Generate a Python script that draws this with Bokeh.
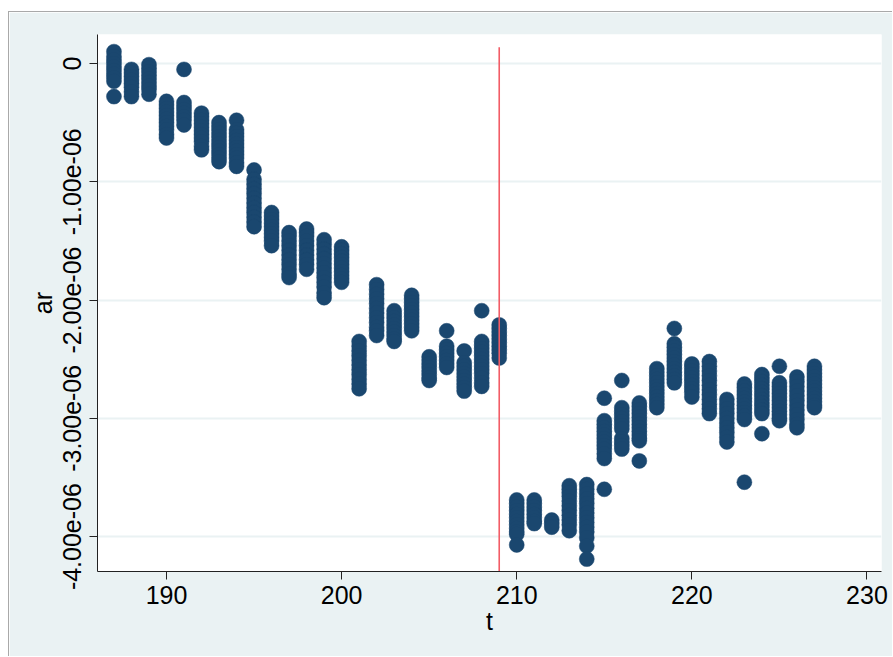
from bokeh.plotting import figure
from bokeh.models import Range1d, FixedTicker, CustomJSTickFormatter
from bokeh.embed import file_html
from bokeh.resources import INLINE

# ---- data (ar values in units of 1e-06) ----
AR_UNIT = 1e-06
t_values = [187, 188, 189, 190, 191, 192, 193, 194, 195, 196, 197, 198, 199, 200,
            201, 202, 203, 204, 205, 206, 207, 208, 209, 210, 211, 212, 213, 214,
            215, 216, 217, 218, 219, 220, 221, 222, 223, 224, 225, 226, 227]

ar_187 = [0.10, 0.06, 0.03, 0.00, -0.03, -0.06, -0.09, -0.12, -0.15, -0.28]
ar_188 = [-0.05, -0.08, -0.11, -0.14, -0.17, -0.20, -0.24, -0.28]
ar_189 = [-0.01, -0.04, -0.07, -0.10, -0.13, -0.16, -0.19, -0.22, -0.26]
ar_190 = [-0.32, -0.35, -0.38, -0.41, -0.44, -0.47, -0.50, -0.53, -0.56, -0.60, -0.63]
ar_191 = [-0.05, -0.33, -0.36, -0.39, -0.42, -0.45, -0.48, -0.52]
ar_192 = [-0.42, -0.45, -0.48, -0.51, -0.54, -0.57, -0.60, -0.63, -0.66, -0.70, -0.73]
ar_193 = [-0.50, -0.53, -0.56, -0.59, -0.62, -0.65, -0.68, -0.71, -0.74, -0.77, -0.80, -0.83]
ar_194 = [-0.48, -0.56, -0.59, -0.62, -0.65, -0.68, -0.71, -0.74, -0.77, -0.80, -0.84, -0.87]
ar_195 = [-0.90, -0.98, -1.02, -1.06, -1.10, -1.14, -1.18, -1.22, -1.26, -1.30, -1.34, -1.38]
ar_196 = [-1.26, -1.29, -1.32, -1.35, -1.38, -1.41, -1.44, -1.47, -1.50, -1.54]
ar_197 = [-1.43, -1.46, -1.50, -1.54, -1.58, -1.62, -1.66, -1.70, -1.74, -1.78, -1.81]
ar_198 = [-1.40, -1.43, -1.46, -1.50, -1.54, -1.58, -1.62, -1.66, -1.70, -1.74]
ar_199 = [-1.49, -1.53, -1.57, -1.61, -1.65, -1.69, -1.73, -1.77, -1.81, -1.85, -1.89, -1.94, -1.98]
ar_200 = [-1.55, -1.58, -1.61, -1.64, -1.67, -1.70, -1.73, -1.76, -1.79, -1.82, -1.85]
ar_201 = [-2.35, -2.39, -2.43, -2.47, -2.51, -2.55, -2.59, -2.63, -2.67, -2.71, -2.75]
ar_202 = [-1.87, -1.91, -1.95, -1.99, -2.03, -2.07, -2.11, -2.15, -2.19, -2.23, -2.26, -2.30]
ar_203 = [-2.09, -2.12, -2.15, -2.18, -2.21, -2.24, -2.27, -2.30, -2.33, -2.35]
ar_204 = [-1.96, -1.99, -2.02, -2.05, -2.08, -2.11, -2.14, -2.17, -2.20, -2.23, -2.26]
ar_205 = [-2.48, -2.51, -2.54, -2.57, -2.60, -2.63, -2.66, -2.68]
ar_206 = [-2.26, -2.39, -2.42, -2.45, -2.48, -2.51, -2.54, -2.57]
ar_207 = [-2.43, -2.53, -2.56, -2.59, -2.62, -2.65, -2.68, -2.71, -2.74, -2.77]
ar_208 = [-2.09, -2.35, -2.38, -2.41, -2.44, -2.47, -2.50, -2.53, -2.56, -2.59, -2.62, -2.66, -2.70, -2.73]
ar_209 = [-2.21, -2.24, -2.27, -2.30, -2.33, -2.36, -2.39, -2.42, -2.45, -2.49]
ar_210 = [-3.69, -3.72, -3.75, -3.78, -3.81, -3.84, -3.87, -3.90, -3.93, -3.96, -3.98, -4.07]
ar_211 = [-3.69, -3.72, -3.75, -3.78, -3.81, -3.84, -3.87, -3.89]
ar_212 = [-3.86, -3.89, -3.92]
ar_213 = [-3.57, -3.60, -3.63, -3.66, -3.70, -3.74, -3.78, -3.82, -3.86, -3.90, -3.95]
ar_214 = [-3.56, -3.60, -3.64, -3.68, -3.72, -3.76, -3.80, -3.84, -3.88, -3.92, -3.96, -4.01, -4.08, -4.19]
ar_215 = [-2.83, -3.02, -3.05, -3.08, -3.11, -3.14, -3.17, -3.20, -3.23, -3.26, -3.30, -3.34, -3.60]
ar_216 = [-2.68, -2.91, -2.94, -2.97, -3.00, -3.03, -3.06, -3.09, -3.17, -3.20, -3.23, -3.26]
ar_217 = [-2.87, -2.90, -2.93, -2.96, -2.99, -3.02, -3.05, -3.08, -3.11, -3.14, -3.17, -3.19, -3.36]
ar_218 = [-2.58, -2.61, -2.64, -2.67, -2.70, -2.73, -2.76, -2.79, -2.82, -2.85, -2.88, -2.91]
ar_219 = [-2.24, -2.37, -2.40, -2.43, -2.46, -2.49, -2.52, -2.55, -2.58, -2.61, -2.64, -2.67, -2.70]
ar_220 = [-2.54, -2.57, -2.60, -2.63, -2.66, -2.69, -2.72, -2.75, -2.78, -2.82]
ar_221 = [-2.52, -2.56, -2.60, -2.64, -2.68, -2.72, -2.76, -2.80, -2.84, -2.88, -2.92, -2.96]
ar_222 = [-2.84, -2.88, -2.92, -2.96, -3.00, -3.04, -3.08, -3.12, -3.16, -3.20]
ar_223 = [-2.71, -2.74, -2.77, -2.80, -2.83, -2.86, -2.89, -2.92, -2.95, -2.98, -3.01, -3.54]
ar_224 = [-2.63, -2.66, -2.69, -2.72, -2.75, -2.78, -2.81, -2.84, -2.87, -2.90, -2.93, -2.96, -3.13]
ar_225 = [-2.56, -2.70, -2.73, -2.76, -2.79, -2.82, -2.85, -2.88, -2.91, -2.94, -2.97, -3.00, -3.02]
ar_226 = [-2.65, -2.69, -2.73, -2.77, -2.81, -2.85, -2.89, -2.93, -2.97, -3.01, -3.05, -3.08]
ar_227 = [-2.56, -2.59, -2.62, -2.65, -2.68, -2.71, -2.74, -2.77, -2.80, -2.83, -2.86, -2.89, -2.91]

ar_groups = [ar_187, ar_188, ar_189, ar_190, ar_191, ar_192, ar_193, ar_194, ar_195,
             ar_196, ar_197, ar_198, ar_199, ar_200, ar_201, ar_202, ar_203, ar_204,
             ar_205, ar_206, ar_207, ar_208, ar_209, ar_210, ar_211, ar_212, ar_213,
             ar_214, ar_215, ar_216, ar_217, ar_218, ar_219, ar_220, ar_221, ar_222,
             ar_223, ar_224, ar_225, ar_226, ar_227]

x_ticks = [190, 200, 210, 220, 230]
y_ticks = [0, -1e-06, -2e-06, -3e-06, -4e-06]
event_t = 209          # vertical reference line
event_line_top = 0.138e-06

# flatten
t_pts, ar_pts = [], []
for tv, grp in zip(t_values, ar_groups):
    for v in grp:
        t_pts.append(tv)
        ar_pts.append(v * AR_UNIT)

# ---- styling ----
BG = "#eaf2f3"
NAVY = "#1a476f"
FONT = "'Liberation Sans Narrow', 'Liberation Sans', Arial, sans-serif"
FS = "25px"

p = figure(width=884, height=645,
           x_range=Range1d(186.06, 230.83), y_range=Range1d(-4.295e-06, 0.245e-06),
           output_backend="svg", toolbar_location=None,
           min_border_left=88, min_border_right=12, min_border_top=22, min_border_bottom=86)
p.styles = {"margin-top": "11px", "margin-left": "8px",
            "border-top": "1px solid #a9a9a9", "border-left": "1px solid #a9a9a9"}
p.border_fill_color = BG
p.background_fill_color = "white"
p.outline_line_color = None

p.xgrid.grid_line_color = None
p.ygrid.grid_line_color = BG
p.ygrid.grid_line_width = 2

for ax in (p.xaxis[0], p.yaxis[0]):
    ax.axis_line_color = "#222222"
    ax.axis_line_width = 1
    ax.major_tick_line_color = "#222222"
    ax.major_tick_out = 8
    ax.major_tick_in = 0
    ax.minor_tick_line_color = None
    ax.major_label_text_font = FONT
    ax.major_label_text_font_size = FS
    ax.major_label_text_color = "black"
    ax.axis_label_text_font = FONT
    ax.axis_label_text_font_size = FS
    ax.axis_label_text_font_style = "normal"
    ax.axis_label_text_color = "black"

p.xaxis.ticker = FixedTicker(ticks=x_ticks)
p.yaxis.ticker = FixedTicker(ticks=y_ticks)
p.yaxis.formatter = CustomJSTickFormatter(code="""
    if (Math.abs(tick) < 1e-15) { return "0"; }
    var s = tick.toExponential(2);
    return s.replace(/e([+-])(\\d)$/, "e$10$2");
""")
p.yaxis.major_label_orientation = "vertical"
p.xaxis.axis_label = "t"
p.yaxis.axis_label = "ar"
p.xaxis.major_label_standoff = 6
p.yaxis.major_label_standoff = 8
p.xaxis.axis_label_standoff = 0
p.yaxis.axis_label_standoff = 4

p.scatter(t_pts, ar_pts, size=15, fill_color=NAVY, line_color=NAVY, line_width=0.5)

p.segment(x0=[event_t], x1=[event_t], y0=[p.y_range.start], y1=[event_line_top],
          line_color="#f25c66", line_width=1.6)

open("out.html", "w").write(file_html(p, INLINE))
